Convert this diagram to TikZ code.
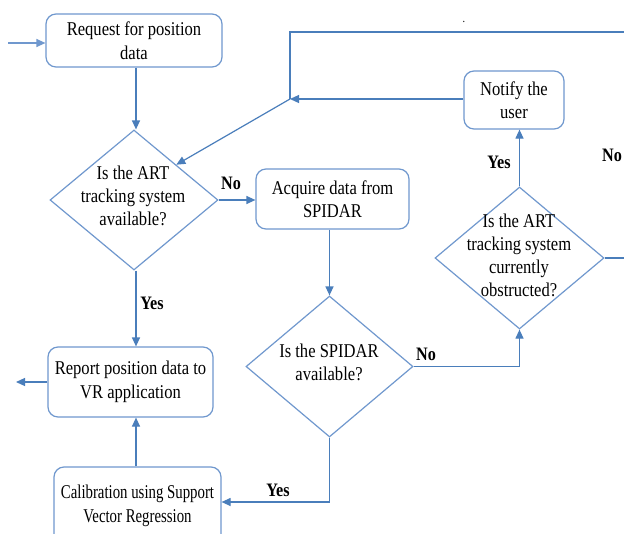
\documentclass[tikz,border=0pt]{standalone}
\usepackage{fontspec}
\setmainfont{Liberation Serif}[FakeStretch=0.85]
\newfontfamily\narrowserif{Liberation Serif}[FakeStretch=0.76]
\usetikzlibrary{arrows.meta,shapes.geometric,calc}
\definecolor{linecol}{RGB}{74,126,187}
\definecolor{boxcol}{RGB}{112,152,206}
\begin{document}
\begin{tikzpicture}[x=1pt,y=-1pt,
  box/.style={draw=boxcol,line width=1.2pt,rounded corners=10pt,inner sep=0pt,align=center,
    font=\fontsize{19.5}{23.5}\selectfont},
  dia/.style={draw=boxcol,line width=1.2pt,shape=diamond,inner sep=0pt},
  dtext/.style={align=center,font=\fontsize{19.5}{23}\selectfont},
  lbl/.style={font=\fontsize{19}{20}\selectfont\bfseries},
  conn/.style={draw=linecol,line width=1.2pt},
  arr/.style={conn,-{Triangle[length=9pt,width=8pt]}}]
\useasboundingbox (0,0) rectangle (624,533);
\clip (0,0) rectangle (624,533);
\fill[white] (0,0) rectangle (624,533);

% process boxes
\node[box,minimum width=176pt,minimum height=53pt] (req) at (134,40.5) {Request for position\\data};
\node[box,minimum width=153pt,minimum height=60pt] (acq) at (332.5,199) {Acquire data from\\SPIDAR};
\node[box,minimum width=100pt,minimum height=58pt] (notify) at (514,100) {Notify the\\user};
\node[box,minimum width=165pt,minimum height=70pt] (rep) at (130.5,382) {Report position data to\\VR application};
\node[box,minimum width=167pt,minimum height=78pt,font=\narrowserif\fontsize{19.5}{23.5}\selectfont] (cal) at (137.5,506) {Calibration using Support\\Vector Regression};

% decisions
\node[dia,minimum width=168pt,minimum height=140pt] (d1) at (134,200) {};
\node[dtext] at (133,196) {Is the ART\\tracking system\\available?};
\node[dia,minimum width=167pt,minimum height=141pt] (d2) at (329.5,366.5) {};
\node[dtext] at (329,362) {Is the SPIDAR\\available?};
\node[dia,minimum width=169pt,minimum height=142pt] (d3) at (519.5,258) {};
\node[dtext] at (519,255) {Is the ART\\tracking system\\currently\\obstructed?};

% helper coordinates
\coordinate (inp) at (8,43);
\coordinate (outp) at (16,382);
\coordinate (j) at (290,99);
\coordinate (topr) at (640,32);

% connectors
\draw[arr,draw=boxcol] (inp) -- (inp -| req.west);
\draw[arr] (req.south -| 136,0) -- (d1.north -| 136,0);
\draw[arr] (d1.east) -- (d1.east -| acq.west);
\draw[arr] (acq.south -| d2.north) -- (d2.north);
\draw[arr] (d1.south -| 136,0) -- (rep.north -| 136,0);
\draw[arr] (rep.west) -- (outp);
\draw[arr] (cal.north -| 136,0) -- (rep.south -| 136,0);
\draw[arr] (d2.south) -- (d2.south |- 0,502) -- (cal.east |- 0,502);
\draw[arr] (d2.east) -- (d2.east -| d3.south) -- (d3.south);
\draw[arr] (d3.north) -- (notify.south -| d3.north);
\draw[arr] (notify.west |- j) -- (j);
\draw[arr] (j) -- (d1.north east);
\draw[conn] (d3.east) -- (d3.east -| topr) -- (topr) -- (topr -| j) -- (j);

% labels
\node[lbl] at (231,183) {No};
\node[lbl] at (152,303) {Yes};
\node[lbl] at (426,354) {No};
\node[lbl] at (499,162) {Yes};
\node[lbl] at (612,155) {No};
\node[lbl] at (278,490) {Yes};
\node[font=\fontsize{12}{12}\selectfont] at (464,22) {.};
\end{tikzpicture}
\end{document}
